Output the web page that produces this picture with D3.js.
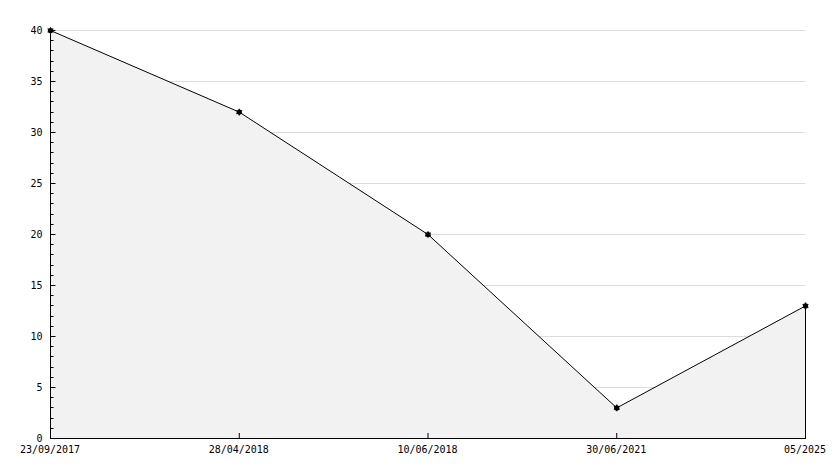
<!DOCTYPE html>
<html><head><meta charset="utf-8">
<script src="https://cdn.jsdelivr.net/npm/d3@7"></script>
<style>body{margin:0;background:#fff}svg{display:block}text{font-family:"DejaVu Sans Mono",monospace;font-size:10px;fill:#000}</style>
</head><body>
<script>
const categories = ["23/09/2017","28/04/2018","10/06/2018","30/06/2021","05/2025"];
const values = [40, 32, 20, 3, 13];
const yTicks = [0,5,10,15,20,25,30,35,40];

const W = 834, H = 468;
const m = {l:50, r:29, t:30, b:30};
const svg = d3.select("body").append("svg").attr("width", W).attr("height", H);
const x = d3.scalePoint().domain(categories).range([m.l, W - m.r]);
const y = d3.scaleLinear().domain([0, 40]).range([H - m.b, m.t]);

// grid
svg.append("g").selectAll("line").data(yTicks.filter(d=>d>0)).join("line")
  .attr("x1", m.l).attr("x2", W - m.r)
  .attr("y1", d => Math.round(y(d)) + 0.5).attr("y2", d => Math.round(y(d)) + 0.5)
  .attr("stroke", "#dcdcdc").attr("stroke-width", 1);

const data = categories.map((c,i)=>({c, v:values[i]}));
const area = d3.area().x(d=>x(d.c)+0.5).y0(y(0)+0.5).y1(d=>y(d.v)+0.5);
svg.append("path").datum(data).attr("d", area).attr("fill", "#f2f2f2").attr("stroke", "none");
// right edge
svg.append("line").attr("x1", x(categories[categories.length-1])+0.5).attr("x2", x(categories[categories.length-1])+0.5)
  .attr("y1", y(values[values.length-1])).attr("y2", y(0)).attr("stroke","#000");

const line = d3.line().x(d=>x(d.c)+0.5).y(d=>y(d.v)+0.5);
svg.append("path").datum(data).attr("d", line).attr("fill","none").attr("stroke","#000").attr("stroke-width",1);

// y axis
const ya = svg.append("g").attr("transform", `translate(${m.l+0.5},0)`);
ya.append("line").attr("y1", y(40)).attr("y2", y(0)+0.5).attr("stroke","#000");
const minor = d3.range(0, 41, 1);
ya.selectAll("line.t").data(minor).join("line").attr("class","t")
  .attr("x1", 0).attr("x2", d => d%5===0 ? 5 : 3)
  .attr("y1", d=>Math.round(y(d))+0.5).attr("y2", d=>Math.round(y(d))+0.5).attr("stroke","#000");
ya.selectAll("text").data(yTicks).join("text")
  .attr("x", -8).attr("y", d=>y(d)+4).attr("text-anchor","end").text(d=>d);

// x axis
const xa = svg.append("g");
xa.append("line").attr("x1", m.l).attr("x2", W - m.r + 1).attr("y1", y(0)+0.5).attr("y2", y(0)+0.5).attr("stroke","#000");
xa.selectAll("line.t").data(categories).join("line").attr("class","t")
  .attr("x1", d=>x(d)+0.5).attr("x2", d=>x(d)+0.5).attr("y1", y(0)).attr("y2", y(0)-5).attr("stroke","#000");
xa.selectAll("text").data(categories).join("text")
  .attr("x", d=>x(d)).attr("y", y(0)+15).attr("text-anchor","middle").text(d=>d);

// markers
const mk = svg.append("g").selectAll("g").data(data).join("g")
  .attr("transform", d=>`translate(${x(d.c)+0.5},${y(d.v)+0.5})`);
mk.append("circle").attr("r", 2.6).attr("fill","#000");
mk.append("path").attr("d", d3.symbol(d3.symbolAsterisk, 30)).attr("stroke","#000").attr("stroke-width",1.2).attr("fill","none");
</script>
</body></html>
